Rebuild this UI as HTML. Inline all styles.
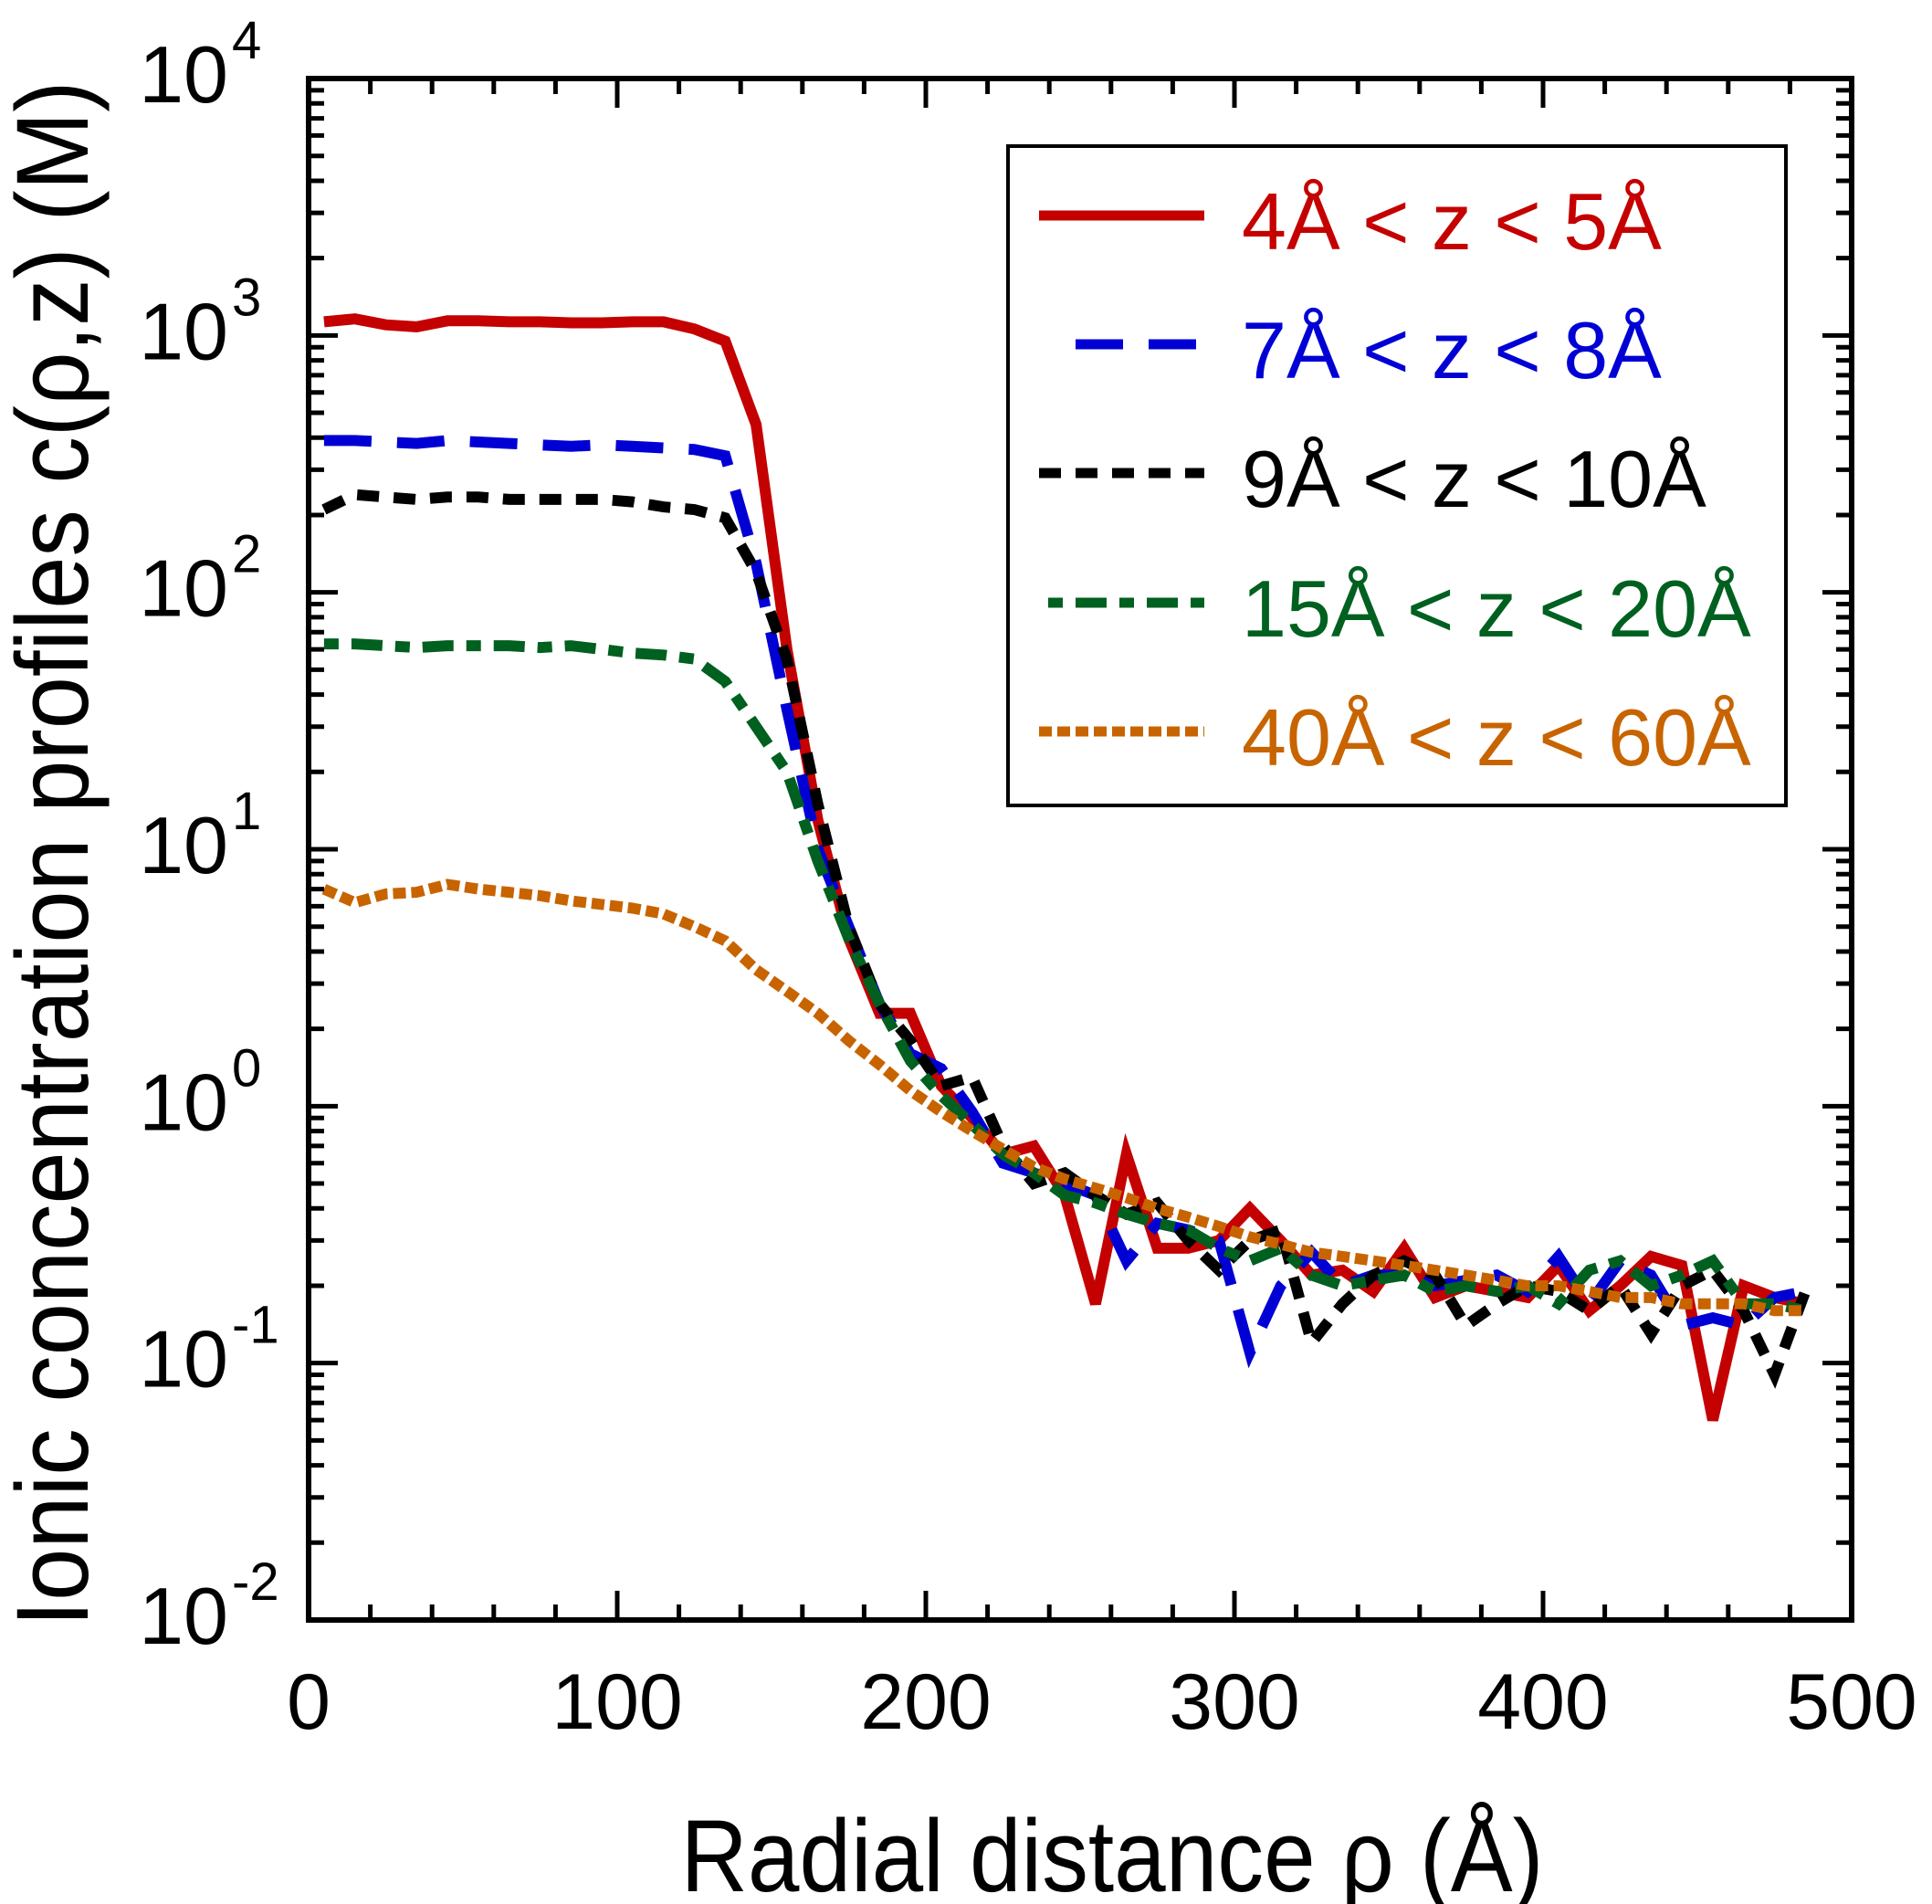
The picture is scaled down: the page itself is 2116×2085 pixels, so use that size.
<!DOCTYPE html>
<html><head><meta charset="utf-8">
<style>
html,body{margin:0;padding:0;background:#fff;}
svg{display:block;}
text{font-family:"Liberation Sans",Arial,sans-serif;}
</style></head>
<body>
<svg id="chart" width="2116" height="2085" viewBox="0 0 2116 2085" xmlns="http://www.w3.org/2000/svg">
<rect x="0" y="0" width="2116" height="2085" fill="#fff"/>
<g id="marks"></g>
<g id="axes"></g>
<g id="legend"></g>
<text x="1218" y="2071" font-size="112" text-anchor="middle" textLength="945" lengthAdjust="spacingAndGlyphs">Radial distance ρ  (Å)</text>
<text transform="translate(96,935) rotate(-90)" font-size="112" text-anchor="middle" textLength="1693" lengthAdjust="spacingAndGlyphs">Ionic concentration profiles c(ρ,z)  (M)</text>
</svg>
<script>
const rho = [5,15,25,35,45,55,65,75,85,95,105,115,125,135,145,155,165,175,185,195,205,215,225,235,245,255,265,275,285,295,305,315,325,335,345,355,365,375,385,395,405,415,425,435,445,455,465,475,485];
const cRed = [1130,1160,1100,1080,1140,1140,1130,1130,1120,1120,1130,1130,1060,
 950,450,60,13,4.5, 2.3,2.3,1.2,0.9,0.65, 0.7,0.45,0.17,0.65,0.28, 0.28,0.3,0.4,0.3,0.22, 0.23,0.19,0.28,0.18,0.2, 0.19,0.18,0.24,0.16,0.2, 0.26,0.24,0.06,0.2,0.18, 0.17];
const cBlue = [390,390,385,380,390,385,380,375,370,375,370,365,360,
 340,130,35,10,5, 2.5,1.6,1.4,0.95,0.6, 0.55,0.5,0.45,0.25,0.35, 0.33,0.3,0.11,0.2,0.27, 0.2,0.22,0.22,0.2,0.21, 0.22,0.19,0.26,0.17,0.25, 0.22,0.14,0.15,0.14,0.18, 0.19];
const cBlack = [210,240,235,230,235,235,230,230,230,230,225,215,210,
 195,120,55,15,5, 2.5,1.8,1.2,1.3,0.7, 0.5,0.55,0.45,0.38,0.42, 0.3,0.23,0.3,0.33,0.12, 0.17,0.22,0.25,0.22,0.14, 0.17,0.2,0.19,0.16,0.2, 0.13,0.2,0.23,0.16,0.09, 0.19];
const cGreen = [63,63,62,61,62,62,62,61,62,60,58,57,55,
 45,30,20,9,4.5, 2.5,1.5,1.1,0.85,0.65, 0.55,0.45,0.42,0.38,0.35, 0.33,0.28,0.25,0.28,0.22, 0.2,0.21,0.22,0.19,0.2, 0.19,0.2,0.17,0.23,0.25, 0.2,0.22,0.25,0.17,0.17, 0.16];
const cOrange = [7,6.2,6.7,6.8,7.3,7.0,6.8,6.6,6.3,6.1,5.9,5.6,5.0,
 4.4,3.4,2.8,2.3,1.8, 1.45,1.15,0.95,0.8,0.68, 0.58,0.52,0.48,0.44,0.4, 0.37,0.34,0.31,0.29,0.27, 0.26,0.25,0.24,0.23,0.22, 0.21,0.2,0.2,0.19,0.18, 0.18,0.17,0.17,0.17,0.16, 0.16];
const xTicks = [0,100,200,300,400,500];
const yDecades = [-2,-1,0,1,2,3,4];
const legendLabels = ["4Å < z < 5Å","7Å < z < 8Å","9Å < z < 10Å","15Å < z < 20Å","40Å < z < 60Å"];

const NS = "http://www.w3.org/2000/svg";
const X0 = 338, X1 = 2028, Y0 = 1774, Y1 = 86;
const xs = v => X0 + (v / 500) * (X1 - X0);
const ys = v => Y0 - ((Math.log10(v) + 2) / 6) * (Y0 - Y1);
function mk(tag, attrs, parent) {
  const e = document.createElementNS(NS, tag);
  for (const k in attrs) e.setAttribute(k, attrs[k]);
  parent.appendChild(e);
  return e;
}
const marks = document.getElementById('marks');
const axes = document.getElementById('axes');
const legend = document.getElementById('legend');

const series = [
  {name:'series-4-5', vals:cRed, color:'#c40000', dash:'none'},
  {name:'series-7-8', vals:cBlue, color:'#0000d4', dash:'52 28'},
  {name:'series-9-10', vals:cBlack, color:'#000000', dash:'24 16'},
  {name:'series-15-20', vals:cGreen, color:'#006020', dash:'16 14 34 14'},
  {name:'series-40-60', vals:cOrange, color:'#c86400', dash:'14 6'}
];
series.forEach(s => {
  const d = s.vals.map((v, j) => (j ? 'L' : 'M') + xs(rho[j]).toFixed(1) + ',' + ys(v).toFixed(1)).join(' ');
  const p = mk('path', {d: d, fill:'none', stroke:s.color, 'stroke-width':12, 'stroke-linejoin':'miter', 'stroke-dasharray':s.dash}, marks);
  
  
});

const frame = mk('rect', {x:X0, y:Y1, width:X1-X0, height:Y0-Y1, fill:'none', stroke:'#000', 'stroke-width':6}, axes);



for (let v = 0; v <= 500; v += 20) {
  const major = v % 100 === 0;
  const L = major ? 32 : 17;
  const x = xs(v);
  const t1 = mk('line', {x1:x, y1:Y0, x2:x, y2:Y0 - L, stroke:'#000', 'stroke-width':5}, axes);
  
  
  const t2 = mk('line', {x1:x, y1:Y1, x2:x, y2:Y1 + L, stroke:'#000', 'stroke-width':5}, axes);
  
  
}
xTicks.forEach(v => {
  const t = mk('text', {x:xs(v), y:1893, 'font-size':86, 'text-anchor':'middle'}, axes);
  t.textContent = String(v);
  
  
});
yDecades.forEach(dcd => {
  for (let m = 1; m <= 9; m++) {
    if (dcd === 4 && m > 1) break;
    const v = m * Math.pow(10, dcd);
    const y = ys(v);
    const L = m === 1 ? 32 : 17;
    const a = mk('line', {x1:X0, y1:y, x2:X0 + L, y2:y, stroke:'#000', 'stroke-width':5}, axes);
    
    
    const b = mk('line', {x1:X1, y1:y, x2:X1 - L, y2:y, stroke:'#000', 'stroke-width':5}, axes);
    
    
  }
  const y = ys(Math.pow(10, dcd));
  const g = mk('g', {}, axes);
  
  
  const t = mk('text', {x:250, y:y + 26, 'font-size':88, 'text-anchor':'end'}, g);
  t.textContent = '10';
  const sp = mk('text', {x:254, y:y - 22, 'font-size':58, 'text-anchor':'start'}, g);
  sp.textContent = String(dcd);
});

const lb = mk('rect', {x:1104, y:160, width:852, height:722, fill:'#fff', stroke:'#000', 'stroke-width':4}, legend);


const rowY = [236, 377, 518, 660, 801];
const lineStart = [1138, 1178, 1138, 1148, 1138];
series.forEach((s, i) => {
  const g = mk('g', {}, legend);
  
  
  mk('line', {x1:lineStart[i], y1:rowY[i], x2:1319, y2:rowY[i], stroke:s.color, 'stroke-width':11, 'stroke-dasharray':s.dash}, g);
  const t = mk('text', {x:1360, y:rowY[i] + 37, 'font-size':88, fill:s.color}, g);
  t.textContent = legendLabels[i];
});
</script>
</body></html>
